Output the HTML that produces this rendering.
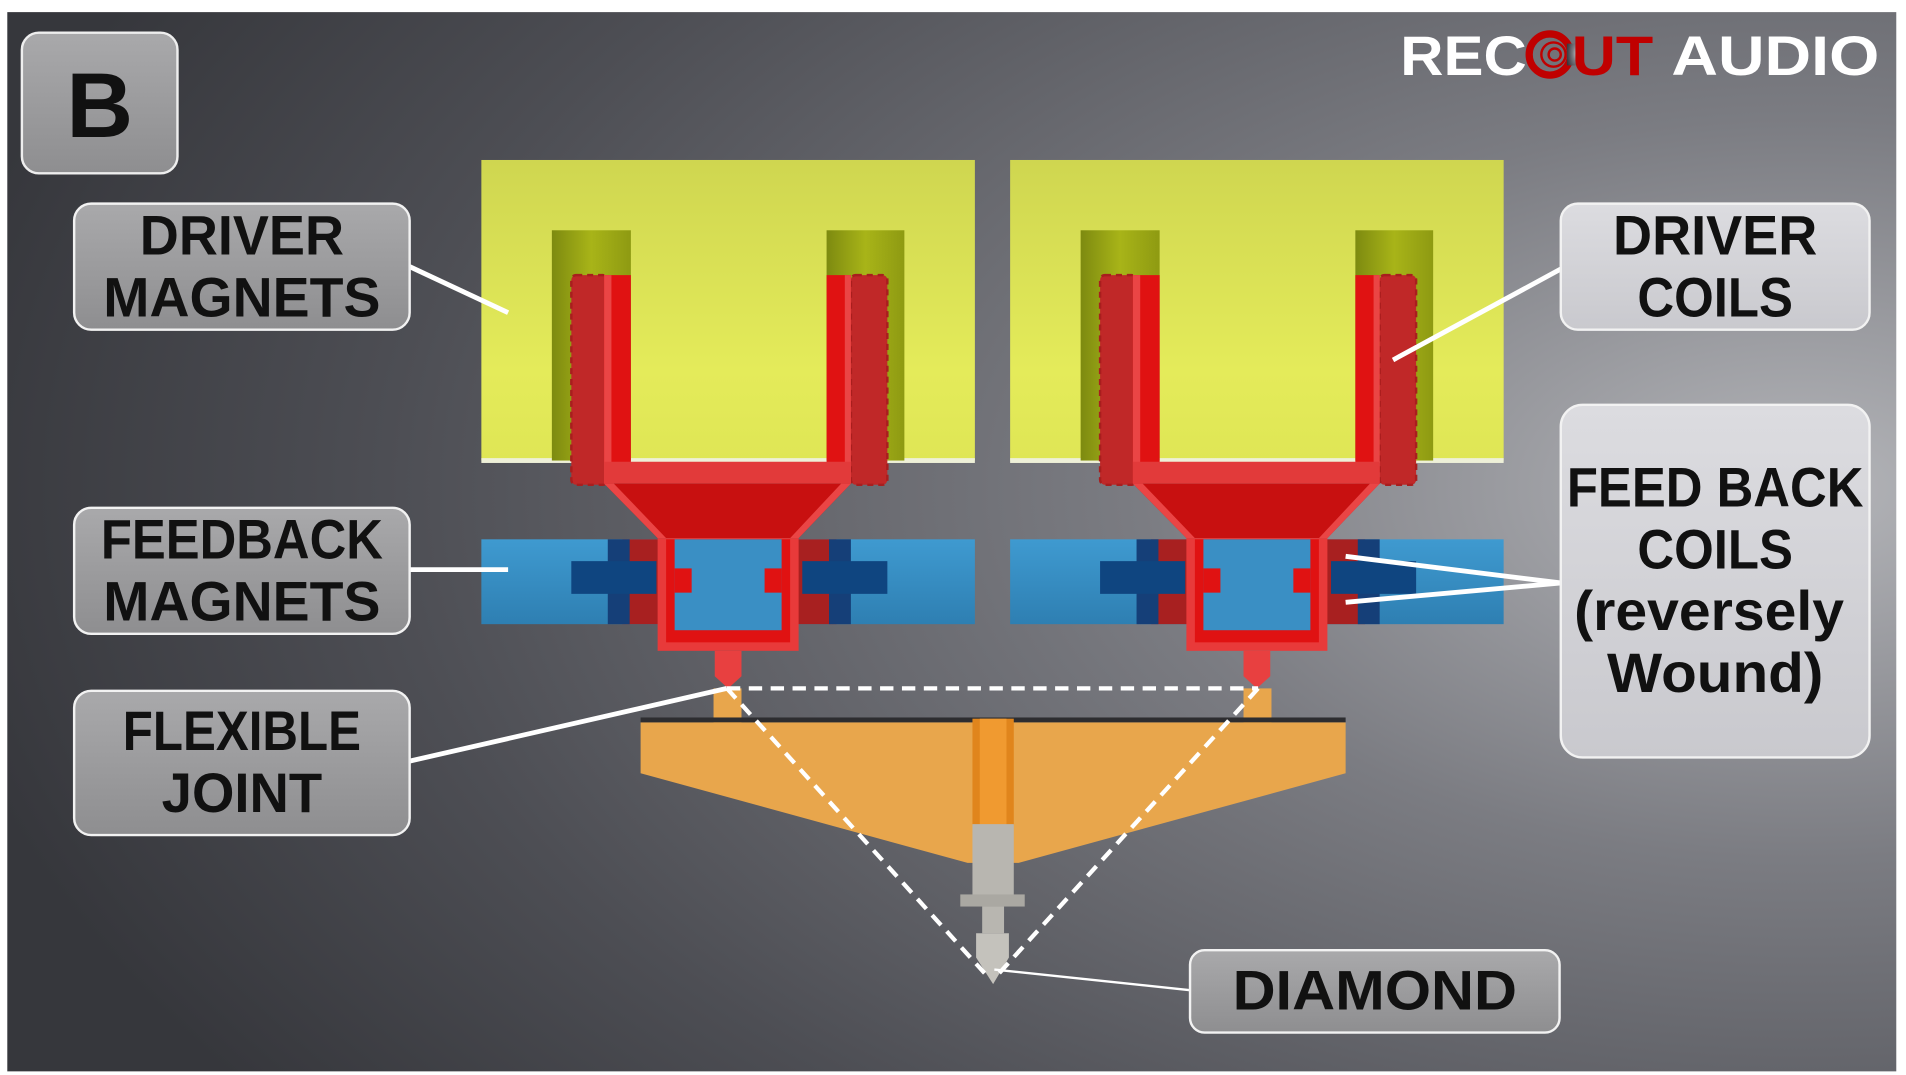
<!DOCTYPE html>
<html><head><meta charset="utf-8"><style>
html,body{margin:0;padding:0;background:#fff;}
svg{display:block;}
text{font-family:"Liberation Sans Narrow","Liberation Sans",sans-serif;font-weight:bold;}
</style></head><body>
<svg width="1906" height="1075" viewBox="0 0 1568 887" preserveAspectRatio="none" xmlns="http://www.w3.org/2000/svg">
<defs>
<radialGradient id="bg" cx="0.95" cy="0.45" r="1.0">
<stop offset="0" stop-color="#b4b5b9"/><stop offset="0.35" stop-color="#7b7c82"/><stop offset="0.75" stop-color="#4d4e54"/><stop offset="1" stop-color="#36373c"/>
</radialGradient>
<linearGradient id="yel" x1="0" y1="0" x2="0" y2="1"><stop offset="0" stop-color="#cfd650"/><stop offset="0.7" stop-color="#e4eb5a"/><stop offset="1" stop-color="#dfe655"/></linearGradient>
<linearGradient id="slot" x1="0" y1="0" x2="1" y2="0"><stop offset="0" stop-color="#7d8a10"/><stop offset="0.5" stop-color="#a8b418"/><stop offset="1" stop-color="#8e9a12"/></linearGradient>
<linearGradient id="blu" x1="0" y1="0" x2="0" y2="1"><stop offset="0" stop-color="#3f9ad0"/><stop offset="1" stop-color="#2e7fb2"/></linearGradient>
<linearGradient id="boxd" x1="0" y1="0" x2="0" y2="1"><stop offset="0" stop-color="#a9a9ab"/><stop offset="1" stop-color="#8e8e90"/></linearGradient>
<linearGradient id="boxl" x1="0" y1="0" x2="0" y2="1"><stop offset="0" stop-color="#dcdce0"/><stop offset="1" stop-color="#c9c9ce"/></linearGradient>
<g id="asm">
<rect x="396" y="132" width="406" height="248" fill="url(#yel)"/>
<rect x="396" y="378" width="406" height="4" fill="#eef0d8"/>
<rect x="454" y="190" width="65" height="190" fill="url(#slot)"/>
<rect x="680" y="190" width="64" height="190" fill="url(#slot)"/>
<rect x="470" y="227" width="30" height="173" rx="4" fill="#c02828" stroke="#a81e1e" stroke-width="2" stroke-dasharray="5 4"/>
<rect x="700" y="227" width="30" height="173" rx="4" fill="#c02828" stroke="#a81e1e" stroke-width="2" stroke-dasharray="5 4"/>
<rect x="497" y="227" width="22" height="172" fill="#e01212"/>
<rect x="497" y="227" width="6" height="172" fill="#ea4545"/>
<rect x="680" y="227" width="20" height="172" fill="#e01212"/>
<rect x="695" y="227" width="5" height="172" fill="#ea4545"/>
<rect x="497" y="381" width="203" height="18" fill="#e23a3a"/>
<polygon points="497,399 700,399 657,444 541,444" fill="#c81010"/>
<polygon points="497,399 505,399 548,444 541,444" fill="#ea4545"/>
<polygon points="692,399 700,399 657,444 650,444" fill="#ea4545"/>
<rect x="396" y="445" width="406" height="70" fill="url(#blu)"/>
<rect x="512" y="445" width="32" height="70" fill="#a82020"/>
<rect x="655" y="445" width="33" height="70" fill="#a82020"/>
<rect x="500" y="445" width="18" height="70" fill="#153f78"/>
<rect x="470" y="463" width="70" height="27" fill="#0f4580"/>
<rect x="682" y="445" width="18" height="70" fill="#153f78"/>
<rect x="660" y="463" width="70" height="27" fill="#0f4580"/>
<rect x="541" y="444" width="116" height="93" fill="#e83a3a"/>
<rect x="548" y="445" width="102" height="85" fill="#e01212"/>
<rect x="555" y="445" width="88" height="75" fill="#3a8fc4"/>
<rect x="555" y="469" width="14" height="20" fill="#e01212"/>
<rect x="629" y="469" width="14" height="20" fill="#e01212"/>
<path d="M588,537 H610 V558 L599,568 L588,558 Z" fill="#e84040"/>
</g>
</defs>
<rect x="0" y="0" width="1568" height="887" fill="#fff"/>
<rect x="6" y="10" width="1554" height="874" fill="url(#bg)"/>
<!-- logo -->
<text x="1152" y="62" font-size="46" fill="#fff" font-family="Liberation Sans" textLength="104" lengthAdjust="spacingAndGlyphs">REC</text>
<circle cx="1275" cy="45" r="17" fill="none" stroke="#c00000" stroke-width="6"/>
<circle cx="1278" cy="45" r="10" fill="none" stroke="#c00000" stroke-width="2"/>
<circle cx="1279" cy="45" r="5" fill="none" stroke="#c00000" stroke-width="2"/>
<rect x="1289" y="36" width="8" height="18" fill="url(#bg)"/>
<text x="1293" y="62" font-size="46" fill="#c00000" font-family="Liberation Sans" textLength="67" lengthAdjust="spacingAndGlyphs">UT</text>
<text x="1375" y="62" font-size="46" fill="#fff" font-family="Liberation Sans" textLength="171" lengthAdjust="spacingAndGlyphs">AUDIO</text>
<!-- B box -->
<rect x="18" y="27" width="128" height="116" rx="14" fill="url(#boxd)" stroke="#eee" stroke-width="2"/>
<text x="82" y="113" font-size="76" fill="#111" text-anchor="middle" font-family="Liberation Sans">B</text>
<!-- assemblies -->
<use href="#asm"/>
<use href="#asm" transform="translate(435,0)"/>
<!-- orange tray -->
<rect x="587" y="568" width="23" height="30" fill="#e8a64c"/>
<rect x="1023" y="568" width="23" height="30" fill="#e8a64c"/>
<polygon points="527,596 1107,596 1107,638 838,712 796,712 527,638" fill="#e8a64c"/>
<rect x="527" y="592" width="580" height="4" fill="#2d2d30"/>
<rect x="800" y="593" width="34" height="88" fill="#e0851c"/>
<rect x="806" y="593" width="22" height="88" fill="#f09a30"/>
<!-- stylus -->
<rect x="800" y="680" width="34" height="60" fill="#b8b6b0"/>
<rect x="790" y="738" width="53" height="10" fill="#aaa8a2"/>
<rect x="808" y="748" width="18" height="22" fill="#b8b6b0"/>
<path d="M803,770 H830 V790 L817,812 L803,790 Z" fill="#c4c2bc"/>
<!-- dashed triangle -->
<path d="M598,568 H1035 M598,568 L810,803 M1035,568 L822,803" fill="none" stroke="#fff" stroke-width="3.5" stroke-dasharray="11 7"/>
<!-- leader lines -->
<g stroke="#fff" stroke-width="4" fill="none">
<line x1="337" y1="220" x2="418" y2="258"/>
<line x1="1284" y1="222" x2="1146" y2="297"/>
<line x1="337" y1="470" x2="418" y2="470"/>
<line x1="1284" y1="481" x2="1107" y2="459"/>
<line x1="1284" y1="481" x2="1107" y2="497"/>
<line x1="337" y1="628" x2="598" y2="568"/>
<line x1="979" y1="817" x2="818" y2="800" stroke-width="2"/>
</g>
<!-- label boxes -->
<g stroke="#f2f2f2" stroke-width="2">
<rect x="61" y="168" width="276" height="104" rx="14" fill="url(#boxd)"/>
<rect x="61" y="419" width="276" height="104" rx="14" fill="url(#boxd)"/>
<rect x="61" y="570" width="276" height="119" rx="14" fill="url(#boxd)"/>
<rect x="1284" y="168" width="254" height="104" rx="14" fill="url(#boxl)"/>
<rect x="1284" y="334" width="254" height="291" rx="18" fill="url(#boxl)"/>
<rect x="979" y="784" width="304" height="68" rx="12" fill="url(#boxd)"/>
</g>
<g fill="#111" font-size="46" text-anchor="middle">
<text x="199" y="210" textLength="168" lengthAdjust="spacingAndGlyphs">DRIVER</text>
<text x="199" y="261" textLength="228" lengthAdjust="spacingAndGlyphs">MAGNETS</text>
<text x="199" y="461" textLength="232" lengthAdjust="spacingAndGlyphs">FEEDBACK</text>
<text x="199" y="512" textLength="228" lengthAdjust="spacingAndGlyphs">MAGNETS</text>
<text x="199" y="619" textLength="196" lengthAdjust="spacingAndGlyphs">FLEXIBLE</text>
<text x="199" y="670" textLength="132" lengthAdjust="spacingAndGlyphs">JOINT</text>
<text x="1411" y="210" textLength="168" lengthAdjust="spacingAndGlyphs">DRIVER</text>
<text x="1411" y="261" textLength="128" lengthAdjust="spacingAndGlyphs">COILS</text>
<text x="1411" y="418" textLength="244" lengthAdjust="spacingAndGlyphs">FEED BACK</text>
<text x="1411" y="469" textLength="128" lengthAdjust="spacingAndGlyphs">COILS</text>
<text x="1406" y="520" textLength="222" lengthAdjust="spacingAndGlyphs">(reversely</text>
<text x="1411" y="571" textLength="178" lengthAdjust="spacingAndGlyphs">Wound)</text>
<text x="1131" y="833" textLength="234" lengthAdjust="spacingAndGlyphs">DIAMOND</text>
</g>
</svg>
</body></html>
